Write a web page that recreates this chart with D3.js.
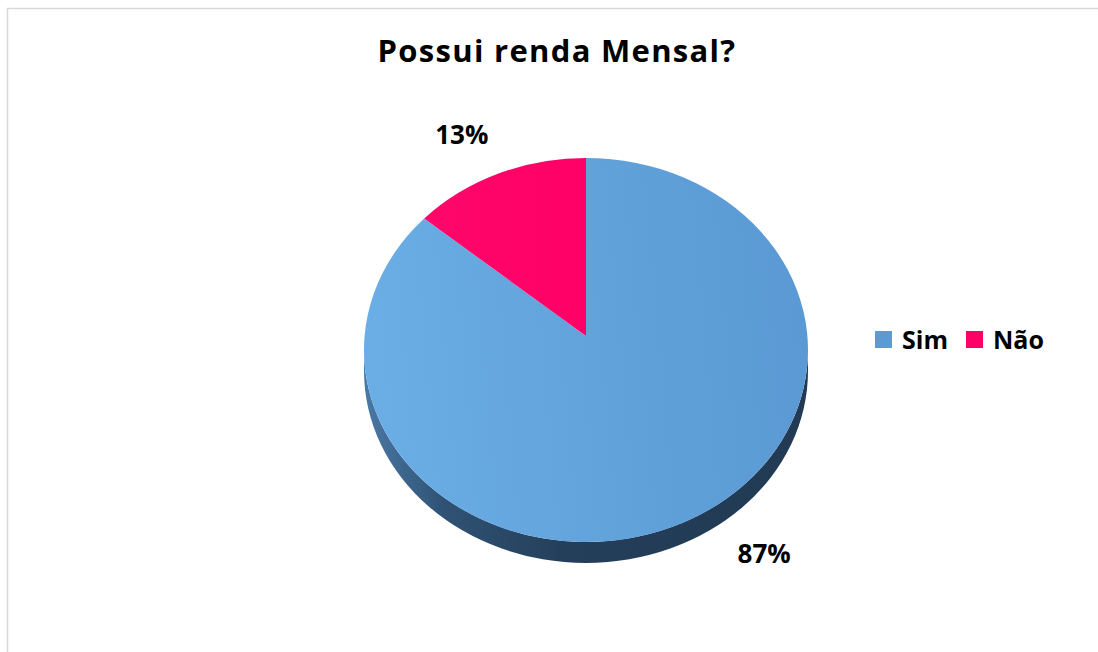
<!DOCTYPE html>
<html lang="pt">
<head>
<meta charset="utf-8">
<title>Possui renda Mensal?</title>
<script src="https://cdnjs.cloudflare.com/ajax/libs/d3/7.8.5/d3.min.js"></script>
<style>
  body { margin: 0; background: #fff; }
  text { font-family: "Open Sans", "Noto Sans", sans-serif; font-weight: 700; fill: #000; }
</style>
</head>
<body>
<script>
// data
var title = "Possui renda Mensal?";
var categories = ["Sim", "Não"];
var values = [87, 13];
var colors = ["#5b9bd5", "#ff0066"];

var w = 1098, h = 652;
var cx = 586, cy = 350, rx = 222, ry = 192, depth = 21;
var apexY = 336;

var svg = d3.select("body").append("svg")
  .attr("width", w).attr("height", h);

// chart area border
svg.append("rect")
  .attr("x", 7.5).attr("y", 8.5)
  .attr("width", w).attr("height", h + 20)
  .attr("fill", "none").attr("stroke", "#d9d9d9").attr("stroke-width", 1.5);

var defs = svg.append("defs");
var gTop = defs.append("linearGradient").attr("id", "topBlue")
  .attr("gradientUnits", "userSpaceOnUse")
  .attr("x1", cx - rx).attr("y1", cy).attr("x2", cx + rx).attr("y2", cy - 40);
gTop.append("stop").attr("offset", "0%").attr("stop-color", "#6badE5");
gTop.append("stop").attr("offset", "100%").attr("stop-color", "#5a99d3");

var gPink = defs.append("linearGradient").attr("id", "topPink")
  .attr("gradientUnits", "userSpaceOnUse")
  .attr("x1", cx - rx).attr("y1", cy).attr("x2", cx).attr("y2", cy);
gPink.append("stop").attr("offset", "0%").attr("stop-color", "#ff0a6c");
gPink.append("stop").attr("offset", "100%").attr("stop-color", "#ff0066");

var gSide = defs.append("linearGradient").attr("id", "side")
  .attr("gradientUnits", "userSpaceOnUse")
  .attr("x1", cx - rx).attr("y1", cy).attr("x2", cx + rx).attr("y2", cy);
gSide.append("stop").attr("offset", "0%").attr("stop-color", "#4a79a6");
gSide.append("stop").attr("offset", "18%").attr("stop-color", "#2f5274");
gSide.append("stop").attr("offset", "45%").attr("stop-color", "#243f5a");
gSide.append("stop").attr("offset", "100%").attr("stop-color", "#223a53");

var topFills = ["url(#topBlue)", "url(#topPink)"];

var pie = d3.pie().sort(null).value(function(d) { return d; });
var arcs = pie(values);

function pt(a, dy) {
  return [cx + rx * Math.sin(a), cy - ry * Math.cos(a) + (dy || 0)];
}

// side wall: only the front half (angles between PI/2 and 3PI/2) is visible
var sideG = svg.append("g");
arcs.forEach(function(d) {
  var s = Math.max(d.startAngle, Math.PI / 2);
  var e = Math.min(d.endAngle, 3 * Math.PI / 2);
  if (e <= s) return;
  var p0 = pt(s), p1 = pt(e), q1 = pt(e, depth), q0 = pt(s, depth);
  var large = (e - s) > Math.PI ? 1 : 0;
  var path = "M" + p0 + " A" + rx + "," + ry + " 0 " + large + " 1 " + p1 +
    " L" + q1 + " A" + rx + "," + ry + " 0 " + large + " 0 " + q0 + " Z";
  sideG.append("path").attr("d", path).attr("fill", "url(#side)");
});

// top faces
svg.append("g").selectAll("path")
  .data(arcs)
  .enter()
  .append("path")
  .attr("d", function(d) {
    var p0 = pt(d.startAngle), p1 = pt(d.endAngle);
    var large = (d.endAngle - d.startAngle) > Math.PI ? 1 : 0;
    return "M" + cx + "," + apexY + " L" + p0 + " A" + rx + "," + ry + " 0 " + large + " 1 " + p1 + " Z";
  })
  .attr("fill", function(d, i) { return topFills[i]; });

// data labels (outside end)
var nudges = [[90, 0], [-36, -14]];
svg.append("g").selectAll("text")
  .data(arcs)
  .enter()
  .append("text")
  .attr("x", function(d, i) {
    var m = (d.startAngle + d.endAngle) / 2;
    return pt(m)[0] + nudges[i][0];
  })
  .attr("y", function(d, i) {
    var m = (d.startAngle + d.endAngle) / 2;
    var p = pt(m, m > Math.PI / 2 && m < 3 * Math.PI / 2 ? depth : 0);
    return p[1] + nudges[i][1] + (i === 0 ? 16 : -16);
  })
  .attr("text-anchor", "middle")
  .attr("font-size", "26px")
  .text(function(d) { return Math.round(d.value / d3.sum(values) * 100) + "%"; });

// title
svg.append("text")
  .attr("x", 557).attr("y", 62)
  .attr("text-anchor", "middle")
  .attr("font-size", "31px")
  .attr("letter-spacing", "1.3px")
  .text(title);

// legend
var legendX = [875, 966];
var legend = svg.append("g").selectAll("g")
  .data(categories)
  .enter()
  .append("g")
  .attr("transform", function(d, i) { return "translate(" + legendX[i] + ",331)"; });
legend.append("rect")
  .attr("width", 17).attr("height", 17)
  .attr("fill", function(d, i) { return colors[i]; });
legend.append("text")
  .attr("x", 27).attr("y", 17.5)
  .attr("font-size", "25px")
  .text(function(d) { return d; });
</script>
</body>
</html>
